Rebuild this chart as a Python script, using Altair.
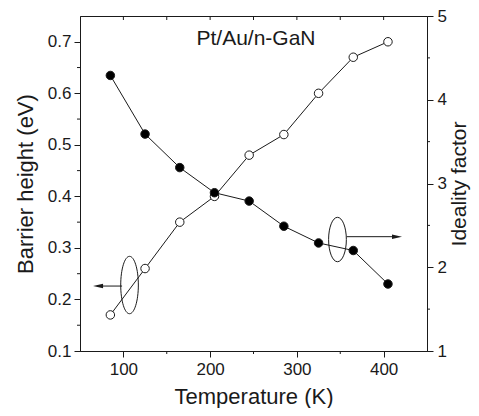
import altair as alt
import pandas as pd

# ---- data ----
temperature = [85, 125, 165, 205, 245, 285, 325, 365, 405]
barrier_height = [0.17, 0.26, 0.35, 0.40, 0.48, 0.52, 0.60, 0.67, 0.70]
ideality_factor = [4.29, 3.59, 3.19, 2.89, 2.79, 2.49, 2.29, 2.20, 1.80]

x_major = [100, 200, 300, 400]
x_minor = [150, 250, 350]
top_ticks = [100, 150, 200, 250, 300, 350, 400]
left_major = [0.1, 0.2, 0.3, 0.4, 0.5, 0.6, 0.7]
left_minor = [0.15, 0.25, 0.35, 0.45, 0.55, 0.65]
right_major = [1, 2, 3, 4, 5]
right_minor = [1.5, 2.5, 3.5, 4.5]

# annotation anchors (data coordinates)
left_ellipse = {"T": [107.1], "v": [0.228]}
left_arrow = {"T": [98.5], "T2": [70.0], "v": [0.226]}
left_head = {"T": [70.8], "v": [0.226]}
right_ellipse = {"T": [346.8], "v": [2.331]}
right_arrow = {"T": [357.5], "T2": [414.0], "v": [2.365]}
right_head = {"T": [415.4], "v": [2.365]}

FONT = "Liberation Sans"
INK = "#1a1a1a"

df = pd.DataFrame({"T": temperature, "phi": barrier_height, "n": ideality_factor})

x_scale = alt.Scale(domain=[50, 450], nice=False, zero=False)
x_axis = alt.Axis(title="Temperature (K)", values=x_major, format="d", tickSize=6,
                  labelPadding=4, titlePadding=9, grid=False)
yl_scale = alt.Scale(domain=[0.1, 0.75], nice=False, zero=False)
yl_axis = alt.Axis(title="Barrier height (eV)", orient="left", values=left_major, format=".1f",
                   tickSize=6, labelPadding=3, titlePadding=10, grid=False)
yr_scale = alt.Scale(domain=[1, 5], nice=False, zero=False)
yr_axis = alt.Axis(title="Ideality factor", orient="right", values=right_major, format="d",
                   tickSize=6, labelPadding=4, titlePadding=2, titleAngle=270,
                   titleBaseline="top", titleFontSize=21, grid=False)

X = lambda f="T": alt.X(f"{f}:Q", scale=x_scale, axis=x_axis)
YL = lambda f: alt.Y(f"{f}:Q", scale=yl_scale, axis=yl_axis)
YR = lambda f: alt.Y(f"{f}:Q", scale=yr_scale, axis=yr_axis)

ellipse_l = "M0,-1 A0.307,1 0 1,1 0,1 A0.307,1 0 1,1 0,-1 Z"
ellipse_r = "M0,-1 A0.40,1 0 1,1 0,1 A0.40,1 0 1,1 0,-1 Z"
head_left = "M-1,0 L1,-0.45 L1,0.45 Z"
head_right = "M1,0 L-1,-0.45 L-1,0.45 Z"

base = alt.Chart(df)

# ---- left group (barrier height, open circles) ----
l_line = base.mark_line(color=INK, strokeWidth=1).encode(x=X(), y=YL("phi"))
l_pts = base.mark_point(shape="circle", filled=True, fill="white", stroke=INK,
                        strokeWidth=1, size=72, opacity=1).encode(x=X(), y=YL("phi"))
l_ell = alt.Chart(pd.DataFrame(left_ellipse)).mark_point(
    shape=ellipse_l, size=(2 * 28.7) ** 2, filled=False, stroke=INK, strokeWidth=1, opacity=1
).encode(x=X(), y=YL("v"))
l_arr = alt.Chart(pd.DataFrame(left_arrow)).mark_rule(color=INK, strokeWidth=1).encode(
    x=X(), x2="T2:Q", y=YL("v"))
l_head = alt.Chart(pd.DataFrame(left_head)).mark_point(
    shape=head_left, size=100, filled=True, fill=INK, opacity=1, strokeWidth=0
).encode(x=X(), y=YL("v"))
l_minor = alt.Chart(pd.DataFrame({"v": left_minor})).mark_rule(color=INK, strokeWidth=1).encode(
    y=YL("v"), x=alt.value(0), x2=alt.value(-3))

left = alt.layer(l_line, l_pts, l_ell, l_arr, l_head, l_minor)

# ---- right group (ideality factor, filled circles) ----
r_line = base.mark_line(color=INK, strokeWidth=1).encode(x=X(), y=YR("n"))
r_pts = base.mark_point(shape="circle", filled=True, fill="black", stroke=INK,
                        strokeWidth=1, size=72, opacity=1).encode(x=X(), y=YR("n"))
r_ell = alt.Chart(pd.DataFrame(right_ellipse)).mark_point(
    shape=ellipse_r, size=(2 * 22.2) ** 2, filled=False, stroke=INK, strokeWidth=1, opacity=1
).encode(x=X(), y=YR("v"))
r_arr = alt.Chart(pd.DataFrame(right_arrow)).mark_rule(color=INK, strokeWidth=1).encode(
    x=X(), x2="T2:Q", y=YR("v"))
r_head = alt.Chart(pd.DataFrame(right_head)).mark_point(
    shape=head_right, size=100, filled=True, fill=INK, opacity=1, strokeWidth=0
).encode(x=X(), y=YR("v"))
r_minor = alt.Chart(pd.DataFrame({"v": right_minor})).mark_rule(color=INK, strokeWidth=1).encode(
    y=YR("v"), x=alt.value(347), x2=alt.value(350))

# x-axis minor ticks and top-edge ticks
b_minor = alt.Chart(pd.DataFrame({"T": x_minor})).mark_rule(color=INK, strokeWidth=1).encode(
    x=X(), y=alt.value(335), y2=alt.value(338))
t_ticks = alt.Chart(pd.DataFrame({"T": top_ticks})).mark_rule(color=INK, strokeWidth=1).encode(
    x=X(), y=alt.value(0), y2=alt.value(4))

label = alt.Chart(pd.DataFrame({"t": ["Pt/Au/n-GaN"]})).mark_text(
    font=FONT, fontSize=21, color=INK, align="center", baseline="middle"
).encode(text="t:N", x=alt.value(176), y=alt.value(23))

right = alt.layer(r_line, r_pts, r_ell, r_arr, r_head, r_minor, b_minor, t_ticks, label)

chart = alt.layer(left, right).resolve_scale(y="independent").properties(
    width=347, height=335,
    padding={"left": 72, "top": 8, "right": 44, "bottom": 57},
    autosize=alt.AutoSizeParams(type="none"),
    background="white",
).configure_view(stroke=INK, strokeWidth=1).configure_axis(
    labelFont=FONT, titleFont=FONT, labelFontSize=17, titleFontSize=22,
    labelColor=INK, titleColor=INK, domainColor=INK, tickColor=INK,
    titleFontWeight="normal", domainWidth=1, tickWidth=1,
)

chart.save("out.html", embed_options={"renderer": "svg", "actions": False})
